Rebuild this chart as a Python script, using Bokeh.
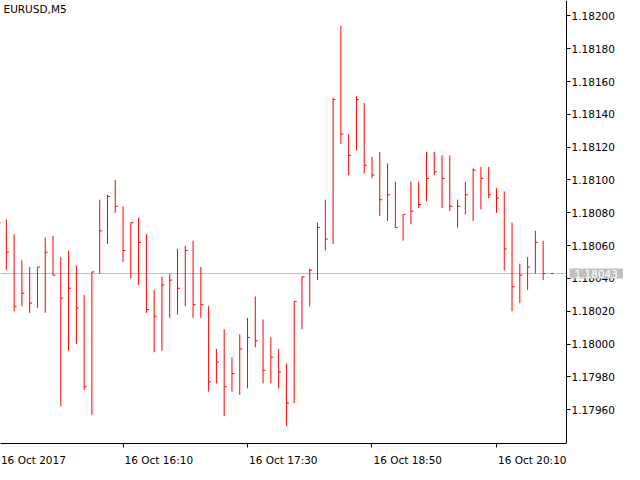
from bokeh.plotting import figure
from bokeh.models import Range1d, FixedTicker, PrintfTickFormatter, Label, LinearAxis
from bokeh.embed import file_html
from bokeh.resources import INLINE

# EURUSD, M5 - 16 Oct 2017, one bar every 5 minutes starting 14:50
high = [1.18077, 1.18076, 1.18067, 1.18051, 1.18047, 1.18047, 1.18065, 1.18066, 1.18053, 1.18057,
        1.18048, 1.18030, 1.18044, 1.18088, 1.18091, 1.18100, 1.18084, 1.18074, 1.18077, 1.18067,
        1.18033, 1.18041, 1.18043, 1.18058, 1.18060, 1.18063, 1.18047, 1.18023, 1.17997, 1.18009,
        1.17992, 1.18006, 1.18016, 1.18029, 1.18015, 1.18004, 1.17997, 1.17988, 1.18026, 1.18041,
        1.18046, 1.18074, 1.18088, 1.18150, 1.18194, 1.18128, 1.18151, 1.18147, 1.18114, 1.18117,
        1.18110, 1.18099, 1.18079, 1.18099, 1.18099, 1.18117, 1.18117, 1.18115, 1.18115, 1.18088,
        1.18099, 1.18107, 1.18108, 1.18108, 1.18095, 1.18093, 1.18074, 1.18049, 1.18053, 1.18069,
        1.18063, 1.18043]
low = [1.18055, 1.18045, 1.18020, 1.18023, 1.18019, 1.18022, 1.18019, 1.18042, 1.17962, 1.17996,
       1.18000, 1.17972, 1.17957, 1.18043, 1.18061, 1.18080, 1.18050, 1.18040, 1.18036, 1.18019,
       1.17995, 1.17996, 1.18016, 1.18018, 1.18023, 1.18016, 1.18016, 1.17971, 1.17976, 1.17956,
       1.17971, 1.17969, 1.17973, 1.17998, 1.17976, 1.17976, 1.17973, 1.17950, 1.17964, 1.18009,
       1.18023, 1.18039, 1.18057, 1.18061, 1.18122, 1.18103, 1.18118, 1.18104, 1.18101, 1.18078,
       1.18075, 1.18071, 1.18063, 1.18073, 1.18083, 1.18087, 1.18103, 1.18083, 1.18081, 1.18071,
       1.18079, 1.18075, 1.18082, 1.18089, 1.18080, 1.18045, 1.18020, 1.18025, 1.18033, 1.18043,
       1.18039, 1.18043]
close = [1.18074, 1.18056, 1.18023, 1.18031, 1.18025, 1.18047, 1.18056, 1.18042, 1.18028, 1.18034,
         1.18022, 1.17974, 1.18044, 1.18069, 1.18090, 1.18084, 1.18057, 1.18074, 1.18062, 1.18021,
         1.18017, 1.18036, 1.18039, 1.18034, 1.18057, 1.18024, 1.18024, 1.17977, 1.17989, 1.17974,
         1.17982, 1.17997, 1.18004, 1.18002, 1.17984, 1.17992, 1.17983, 1.17964, 1.18026, 1.18041,
         1.18045, 1.18071, 1.18064, 1.18149, 1.18128, 1.18115, 1.18149, 1.18109, 1.18103, 1.18088,
         1.18091, 1.18071, 1.18079, 1.18081, 1.18085, 1.18101, 1.18105, 1.18101, 1.18084, 1.18084,
         1.18091, 1.18106, 1.18101, 1.18091, 1.18089, 1.18058, 1.18035, 1.18042, 1.18047, 1.18062,
         1.18043, 1.18043]
bid = 1.18043

price_ticks = [1.17960, 1.17980, 1.18000, 1.18020, 1.18040, 1.18060, 1.18080,
               1.18100, 1.18120, 1.18140, 1.18160, 1.18180, 1.18200]
time_ticks = [0, 16, 32, 48, 64]
time_labels = ["16 Oct 2017", "16 Oct 16:10", "16 Oct 17:30", "16 Oct 18:50", "16 Oct 20:10"]

FONT = "DejaVu Sans"
FSIZE = "10.5px"
FW, FH = 624, 443      # whole canvas width; price scale is drawn inside at x_axis
CHART_W = 566          # px left of the price scale
CHAR_W = 5.8           # rough px per character, used to left-align the time labels

x_lo, x_axis = 0.25, 73.0
px_x = (x_axis - x_lo) / CHART_W
x_hi = x_lo + FW * px_x
y_lo, y_hi = 1.179394, 1.182094
px_y = (y_hi - y_lo) / FH

p = figure(frame_width=FW, frame_height=FH, x_range=Range1d(x_lo, x_hi), y_range=Range1d(y_lo, y_hi),
           y_axis_location="right", output_backend="svg", toolbar_location=None,
           min_border_left=0, min_border_top=0, min_border_right=0, min_border_bottom=0)
p.outline_line_color = None
p.grid.visible = False
p.background_fill_color = "white"

# price scale, pinned at the right edge of the chart area
ya = p.yaxis[0]
ya.fixed_location = x_axis
ya.ticker = FixedTicker(ticks=price_ticks)
ya.formatter = PrintfTickFormatter(format="%.5f")
ya.axis_line_color = "black"
ya.major_tick_line_color = "black"
ya.major_tick_in = 0
ya.major_tick_out = 4
ya.minor_tick_line_color = None
ya.major_label_standoff = 1
ya.major_label_text_font = FONT
ya.major_label_text_font_size = FSIZE
ya.major_label_text_color = "black"

# time axis: ticks only, the labels go on a second axis just below it
xa = p.xaxis[0]
xa.bounds = (x_lo, x_axis)
xa.ticker = FixedTicker(ticks=time_ticks)
xa.axis_line_color = "black"
xa.major_tick_line_color = "black"
xa.major_tick_in = 0
xa.major_tick_out = 4
xa.minor_tick_line_color = None
xa.major_label_text_color = None
xa.major_label_text_font_size = "1px"
xa.major_label_standoff = 0

label_pos = [max(t, x_lo) + (1 + CHAR_W * len(s) / 2) * px_x for t, s in zip(time_ticks, time_labels)]
xl = LinearAxis(ticker=FixedTicker(ticks=label_pos),
                major_label_overrides=dict(zip(label_pos, time_labels)))
xl.axis_line_color = None
xl.major_tick_line_color = None
xl.minor_tick_line_color = None
xl.major_label_standoff = 0
xl.major_label_text_font = FONT
xl.major_label_text_font_size = FSIZE
xl.major_label_text_color = "black"
p.add_layout(xl, "below")

# bid line behind the bars, up to the price scale
p.segment(x0=[x_lo], y0=[bid], x1=[x_axis], y1=[bid], line_color="#C0C0C0", line_width=1,
          level="underlay")

bars = list(range(len(high)))
tick_end = [b + 0.32 for b in bars]
p.segment(x0=bars, y0=low, x1=bars, y1=high, line_color="#FF0000", line_width=1)
p.segment(x0=bars, y0=close, x1=tick_end, y1=close, line_color="#FF0000", line_width=1)

p.add_layout(Label(x=x_lo + 3 * px_x, y=y_hi - 2 * px_y, text="EURUSD,M5",
                   text_font=FONT, text_font_size=FSIZE, text_color="black",
                   text_baseline="top", text_align="left"))

# bid price box over the price scale
p.add_layout(Label(x=x_axis + 3 * px_x, y=bid, text="%.5f" % bid,
                   text_font=FONT, text_font_size=FSIZE, text_color="white",
                   text_baseline="middle", text_align="left",
                   background_fill_color="#C0C0C0", padding=(5, 1)))

open("out.html", "w").write(file_html(p, INLINE))
